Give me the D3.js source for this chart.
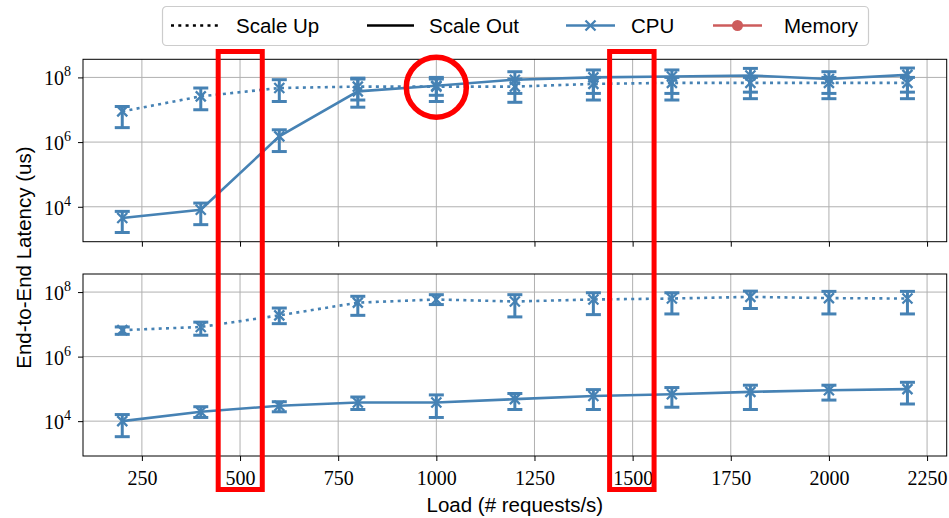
<!DOCTYPE html>
<html>
<head>
<meta charset="utf-8">
<script src="https://cdn.jsdelivr.net/npm/d3@7"></script>
<style>
  body { margin: 0; background: #fff; }
  svg { display: block; }
  .sans { font-family: "Liberation Sans", Arial, sans-serif; }
  .serif { font-family: "Liberation Serif", "DejaVu Serif", serif; }
</style>
</head>
<body>
<svg id="chart" width="949" height="518"></svg>
<script>
// load points (requests/s)
const loads = [200, 400, 600, 800, 1000, 1200, 1400, 1600, 1800, 2000, 2200];

// top panel
const topUpMean = [8.9e6, 2.6e7, 4.7e7, 5.2e7, 5.2e7, 5.2e7, 6.3e7, 6.8e7, 6.8e7, 6.8e7, 6.8e7];
const topUpHi   = [1.26e7, 4.7e7, 8.5e7, 9.5e7, 8.9e7, 8.9e7, 1.0e8, 1.0e8, 1.0e8, 1.0e8, 1.0e8];
const topUpLo   = [2.8e6, 1.0e7, 1.8e7, 2.0e7, 1.8e7, 1.7e7, 2.0e7, 2.0e7, 2.2e7, 2.2e7, 2.2e7];
const topOutMean = [4.5e3, 8.1e3, 1.5e6, 3.7e7, 5.5e7, 8.5e7, 1.0e8, 1.07e8, 1.15e8, 8.9e7, 1.2e8];
const topOutHi   = [7.2e3, 1.3e4, 2.4e6, 8.9e7, 1.0e8, 1.5e8, 1.7e8, 1.7e8, 1.9e8, 1.5e8, 1.95e8];
const topOutLo   = [1.6e3, 2.8e3, 5.1e5, 1.2e7, 2.8e7, 3.2e7, 3.2e7, 3.2e7, 3.5e7, 3.2e7, 3.5e7];

// bottom panel
const botUpMean = [6.6e6, 8.3e6, 1.9e7, 4.7e7, 5.9e7, 5.1e7, 5.9e7, 6.3e7, 7.1e7, 6.5e7, 6.3e7];
const botUpHi   = [8.3e6, 1.17e7, 3.2e7, 7.4e7, 8.3e7, 8.3e7, 9.5e7, 9.5e7, 1.07e8, 1.05e8, 1.05e8];
const botUpLo   = [4.9e6, 4.6e6, 1.05e7, 1.9e7, 4.1e7, 1.7e7, 2.0e7, 2.1e7, 3.1e7, 2.1e7, 2.1e7];
const botOutMean = [1.0e4, 1.95e4, 3.0e4, 3.8e4, 3.8e4, 4.8e4, 6.0e4, 6.8e4, 8.1e4, 9.1e4, 9.8e4];
const botOutHi   = [1.6e4, 2.8e4, 4.0e4, 5.6e4, 6.5e4, 7.2e4, 9.5e4, 1.1e5, 1.3e5, 1.3e5, 1.6e5];
const botOutLo   = [3.3e3, 1.3e4, 1.95e4, 2.3e4, 1.3e4, 2.3e4, 2.3e4, 2.7e4, 2.3e4, 4.5e4, 3.4e4];

const xTicks = [250, 500, 750, 1000, 1250, 1500, 1750, 2000, 2250];
const yTickExp = [4, 6, 8];
const legendItems = ["Scale Up", "Scale Out", "CPU", "Memory"];

// highlighted regions drawn over the figure (in data units)
const highlightBands = [[438, 563], [1435, 1561]];
const highlightCircle = { load: 1000, value: 5.0e7 };

const blue = "#4682b4", red = "#cd5c5c", gridCol = "#b0b0b0";

const svg = d3.select("#chart");
const left = 83, right = 946.7;
const panels = [
  { top: 59.3, bottom: 241.7, labels: false,
    series: [
      { mean: topUpMean, lo: topUpLo, hi: topUpHi, dash: "3,4.3" },
      { mean: topOutMean, lo: topOutLo, hi: topOutHi, dash: null }
    ] },
  { top: 274, bottom: 456, labels: true,
    series: [
      { mean: botUpMean, lo: botUpLo, hi: botUpHi, dash: "3,4.3" },
      { mean: botOutMean, lo: botOutLo, hi: botOutHi, dash: null }
    ] }
];

const x = d3.scaleLinear().domain([100, 2300]).range([left, right]);

function xMark(sel, cx, cy, r) {
  return sel.append("path").attr("stroke", blue).attr("stroke-width", 2.3)
    .attr("d", `M${cx - r},${cy - r}L${cx + r},${cy + r}M${cx - r},${cy + r}L${cx + r},${cy - r}`);
}

panels.forEach(p => {
  const y = d3.scaleLog().domain([Math.pow(10, 2.92), Math.pow(10, 8.56)]).range([p.bottom, p.top]);
  p.y = y;
  const g = svg.append("g");

  // grid
  g.selectAll("line.gx").data(xTicks).join("line")
    .attr("x1", d => x(d)).attr("x2", d => x(d))
    .attr("y1", p.top).attr("y2", p.bottom)
    .attr("stroke", gridCol).attr("stroke-width", 1);
  g.selectAll("line.gy").data(yTickExp).join("line")
    .attr("x1", left).attr("x2", right)
    .attr("y1", d => y(Math.pow(10, d))).attr("y2", d => y(Math.pow(10, d)))
    .attr("stroke", gridCol).attr("stroke-width", 1);

  // x axis
  const xa = g.append("g").attr("transform", `translate(0,${p.bottom})`)
    .call(d3.axisBottom(x).tickValues(xTicks).tickSize(5).tickPadding(6)
      .tickFormat(p.labels ? d3.format("d") : ""));
  // y axis
  const ya = g.append("g").attr("transform", `translate(${left},0)`)
    .call(d3.axisLeft(y).tickValues(yTickExp.map(e => Math.pow(10, e))).tickSize(5).tickFormat(""));
  [xa, ya].forEach(a => {
    a.select(".domain").remove();
    a.selectAll(".tick line").attr("stroke", "#000").attr("stroke-width", 1);
    a.selectAll(".tick text").attr("class", "serif").attr("font-size", 20).attr("fill", "#000");
  });
  xa.selectAll(".tick text").attr("dy", "0.9em");

  // y tick labels 10^n
  const yl = g.selectAll("text.ylab").data(yTickExp).join("text")
    .attr("class", "serif").attr("text-anchor", "end").attr("font-size", 20)
    .attr("x", 71).attr("y", d => y(Math.pow(10, d)) + 8);
  yl.append("tspan").text("10");
  yl.append("tspan").attr("font-size", 14).attr("dy", -9).text(d => d);

  const lineGen = d3.line().x((d, i) => x(loads[i])).y(d => y(d));
  const sg = g.append("g");
  p.series.forEach(s => {
    sg.append("path").datum(s.mean)
      .attr("d", lineGen).attr("fill", "none").attr("stroke", blue)
      .attr("stroke-width", 2.6).attr("stroke-dasharray", s.dash)
      .attr("stroke-linecap", s.dash ? "butt" : "round");
  });
  p.series.forEach(s => {
    const eb = sg.append("g").attr("stroke", blue).attr("stroke-width", 3);
    loads.forEach((L, i) => {
      const cx = x(L);
      eb.append("line").attr("x1", cx).attr("x2", cx)
        .attr("y1", y(s.lo[i])).attr("y2", y(s.hi[i]));
      [s.lo[i], s.hi[i]].forEach(v => {
        eb.append("line").attr("x1", cx - 7.5).attr("x2", cx + 7.5)
          .attr("y1", y(v)).attr("y2", y(v));
      });
      xMark(eb, cx, y(s.mean[i]), 5);
    });
  });

  // frame
  g.append("rect").attr("x", left).attr("y", p.top)
    .attr("width", right - left).attr("height", p.bottom - p.top)
    .attr("fill", "none").attr("stroke", "#000").attr("stroke-width", 1);
});

// axis labels
svg.append("text").attr("class", "sans").attr("font-size", 20.5)
  .attr("text-anchor", "middle").attr("x", (left + right) / 2).attr("y", 512)
  .text("Load (# requests/s)");
svg.append("text").attr("class", "sans").attr("font-size", 20.5)
  .attr("text-anchor", "middle")
  .attr("transform", `translate(31,${(panels[0].top + panels[1].bottom) / 2}) rotate(-90)`)
  .text("End-to-End Latency (us)");

// legend
const lg = svg.append("g");
lg.append("rect").attr("x", 162.5).attr("y", 6.5).attr("width", 706).attr("height", 39)
  .attr("rx", 4).attr("fill", "#fff").attr("fill-opacity", 0.8)
  .attr("stroke", "#cccccc").attr("stroke-width", 1.2);
const legendPos = [
  { x0: 171, x1: 219, tx: 236 },
  { x0: 367, x1: 414, tx: 429 },
  { x0: 566, x1: 615, tx: 631 },
  { x0: 713, x1: 762, tx: 784 }
];
legendItems.forEach((name, i) => {
  const lp = legendPos[i], ly = 25.5;
  const col = i < 2 ? "#000" : (i === 2 ? blue : red);
  lg.append("line").attr("x1", lp.x0).attr("x2", lp.x1).attr("y1", ly).attr("y2", ly)
    .attr("stroke", col).attr("stroke-width", 2.6)
    .attr("stroke-dasharray", i === 0 ? "3,4.3" : null);
  const mx = (lp.x0 + lp.x1) / 2;
  if (i === 2) xMark(lg, mx, ly, 5);
  if (i === 3) {
    lg.append("circle").attr("cx", mx).attr("cy", ly).attr("r", 5.5).attr("fill", red);
  }
  lg.append("text").attr("class", "sans").attr("font-size", 20.5)
    .attr("x", lp.tx).attr("y", 33).text(name);
});

// red highlight annotations
const yTop = panels[0].y;
highlightBands.forEach(b => {
  svg.append("rect").attr("x", x(b[0]) + 2.5).attr("y", 51.5)
    .attr("width", x(b[1]) - x(b[0]) - 5).attr("height", 438)
    .attr("fill", "none").attr("stroke", "#ff0000").attr("stroke-width", 5);
});
svg.append("circle").attr("cx", x(highlightCircle.load)).attr("cy", yTop(highlightCircle.value))
  .attr("r", 30).attr("fill", "none").attr("stroke", "#ff0000").attr("stroke-width", 5.5);
</script>
</body>
</html>
